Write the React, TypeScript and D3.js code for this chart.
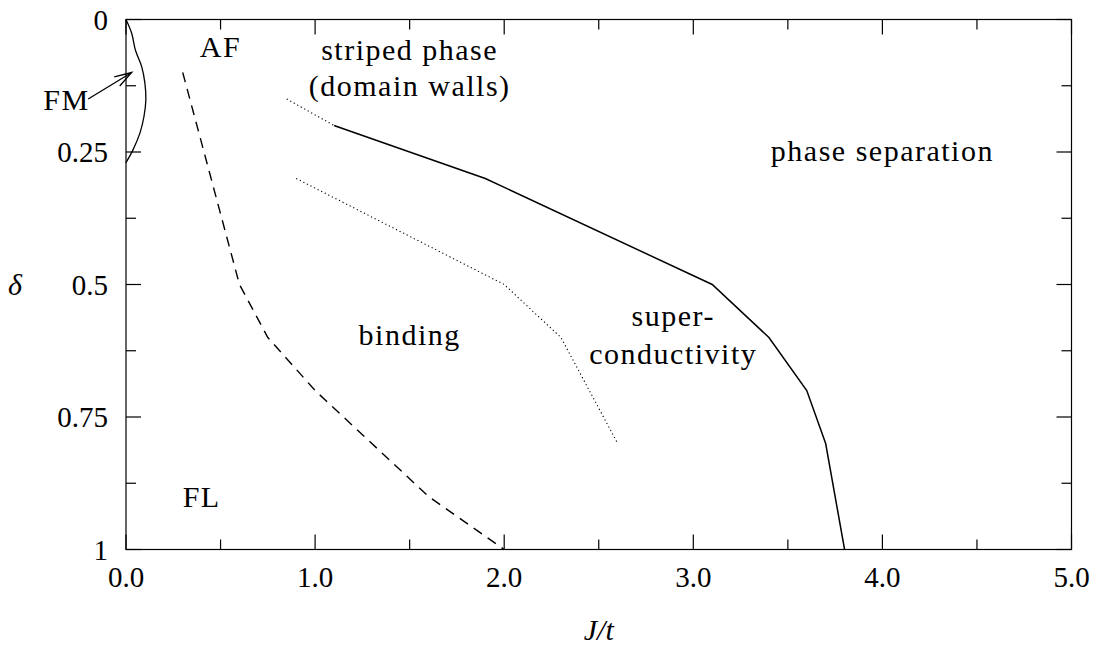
import React from 'react';
import * as d3 from 'd3';

const xTicks = [0, 1, 2, 3, 4, 5];
const xTickLabels = ['0.0', '1.0', '2.0', '3.0', '4.0', '5.0'];
const xMinor = [0.5, 1.5, 2.5, 3.5, 4.5];
const yTicks = [0, 0.25, 0.5, 0.75, 1];
const yTickLabels = ['0', '0.25', '0.5', '0.75', '1'];
const yMinor = [0.125, 0.375, 0.625, 0.875];

// phase boundaries: [J/t, delta]
const fmCurve: [number, number][] = [
  [0, 0], [0.03, 0.026], [0.05, 0.058], [0.083, 0.089], [0.1, 0.12],
  [0.105, 0.152], [0.095, 0.183], [0.074, 0.214], [0.037, 0.246], [0, 0.27],
];
const flBoundary: [number, number][] = [
  [0.3, 0.1], [0.6, 0.5], [0.75, 0.6], [1.0, 0.7], [1.6, 0.9], [2.0, 1.0],
];
const psBoundary: [number, number][] = [
  [1.1, 0.2], [1.9, 0.3], [3.1, 0.5], [3.4, 0.6], [3.6, 0.7], [3.7, 0.8], [3.8, 1.0],
];
const stripedBoundary: [number, number][] = [[0.85, 0.15], [1.1, 0.2]];
const bindingBoundary: [number, number][] = [[0.9, 0.3], [2.0, 0.5], [2.3, 0.6], [2.6, 0.8]];
const fmArrow: [number, number][] = [[-0.2, 0.15], [0.03, 0.1]];

const labels = [
  { text: 'AF', J: 0.5, d: 0.071 },
  { text: 'FM', J: -0.315, d: 0.171 },
  { text: 'striped phase', J: 1.5, d: 0.076 },
  { text: '(domain walls)', J: 1.5, d: 0.144 },
  { text: 'phase separation', J: 4.0, d: 0.267 },
  { text: 'binding', J: 1.5, d: 0.614 },
  { text: 'super-', J: 2.894, d: 0.578 },
  { text: 'conductivity', J: 2.894, d: 0.65 },
  { text: 'FL', J: 0.4, d: 0.92 },
];

const W = 1096;
const H = 647;
const x = d3.scaleLinear().domain([0, 5]).range([126, 1071.5]);
const y = d3.scaleLinear().domain([0, 1]).range([19.5, 549.5]);

const FONT = "'Liberation Serif', 'DejaVu Serif', 'Times New Roman', serif";

export default function App() {
  const line = d3.line<[number, number]>().x((p) => x(p[0])).y((p) => y(p[1]));
  const smooth = d3
    .line<[number, number]>()
    .x((p) => x(p[0]))
    .y((p) => y(p[1]))
    .curve(d3.curveCatmullRom.alpha(0.5));

  const [a0, a1] = fmArrow;
  const tx = x(a1[0]), ty = y(a1[1]);
  const ang = Math.atan2(ty - y(a0[1]), tx - x(a0[0]));
  const hl = 18, ha = (17 * Math.PI) / 180;
  const head = `M${tx - hl * Math.cos(ang - ha)},${ty - hl * Math.sin(ang - ha)}L${tx},${ty}L${tx - hl * Math.cos(ang + ha)},${ty - hl * Math.sin(ang + ha)}`;

  const [x0, x1] = x.range();
  const [y0, y1] = y.range();
  const major = 15, minor = 10;

  return (
    <svg
      width={W}
      height={H}
      style={{ position: 'absolute', left: 0, top: 0, display: 'block', background: '#fff' }}
    >
      <rect x={0} y={0} width={W} height={H} fill="#fff" />
      <g stroke="#000" strokeWidth={1.2} fill="none">
        <rect x={x0} y={y0} width={x1 - x0} height={y1 - y0} />
        {xTicks.map((t) => (
          <g key={'xt' + t}>
            <line x1={x(t)} x2={x(t)} y1={y1} y2={y1 - major} />
            <line x1={x(t)} x2={x(t)} y1={y0} y2={y0 + major} />
          </g>
        ))}
        {xMinor.map((t) => (
          <g key={'xm' + t}>
            <line x1={x(t)} x2={x(t)} y1={y1} y2={y1 - minor} />
            <line x1={x(t)} x2={x(t)} y1={y0} y2={y0 + minor} />
          </g>
        ))}
        {yTicks.map((t) => (
          <g key={'yt' + t}>
            <line x1={x0} x2={x0 + major} y1={y(t)} y2={y(t)} />
            <line x1={x1} x2={x1 - major} y1={y(t)} y2={y(t)} />
          </g>
        ))}
        {yMinor.map((t) => (
          <g key={'ym' + t}>
            <line x1={x0} x2={x0 + minor} y1={y(t)} y2={y(t)} />
            <line x1={x1} x2={x1 - minor} y1={y(t)} y2={y(t)} />
          </g>
        ))}
      </g>

      <g fill="none" stroke="#000">
        <path d={smooth(fmCurve) || ''} strokeWidth={1.3} />
        <path d={line(flBoundary) || ''} strokeWidth={1.4} strokeDasharray="10,7" />
        <path d={line(psBoundary) || ''} strokeWidth={1.5} />
        <path d={line(stripedBoundary) || ''} strokeWidth={1.1} strokeDasharray="1.2,2.8" />
        <path d={line(bindingBoundary) || ''} strokeWidth={1.1} strokeDasharray="1.2,2.8" />
        <path d={line(fmArrow) || ''} strokeWidth={1.3} />
        <path d={head} strokeWidth={1.3} />
      </g>

      <g style={{ fontFamily: FONT }} fill="#000">
        {xTicks.map((t, i) => (
          <text key={'xl' + t} x={x(t)} y={y1 + 37} fontSize={29} textAnchor="middle">
            {xTickLabels[i]}
          </text>
        ))}
        {yTicks.map((t, i) => (
          <text key={'yl' + t} x={x0 - 18} y={y(t) + 10} fontSize={29} textAnchor="end">
            {yTickLabels[i]}
          </text>
        ))}
        {labels.map((l) => (
          <text
            key={l.text}
            x={x(l.J)}
            y={y(l.d)}
            fontSize={30}
            letterSpacing={1.5}
            textAnchor="middle"
          >
            {l.text}
          </text>
        ))}
        <text x={15} y={y(0.5) + 10} fontSize={30} fontStyle="italic" textAnchor="middle">
          δ
        </text>
        <text x={(x0 + x1) / 2} y={640} fontSize={30} fontStyle="italic" textAnchor="middle">
          J/t
        </text>
      </g>
    </svg>
  );
}
